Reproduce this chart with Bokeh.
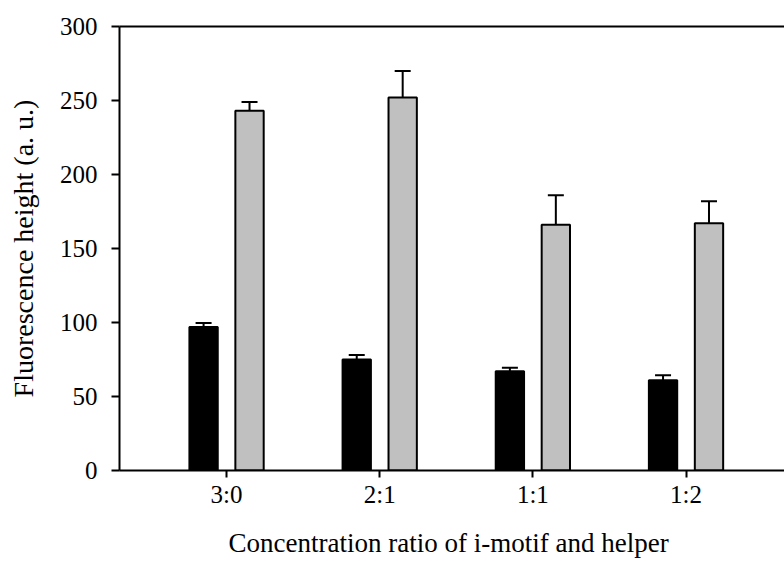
import numpy as np
from bokeh.plotting import figure
from bokeh.models import (ColumnDataSource, Whisker, TeeHead, FixedTicker,
                          LinearAxis, Range1d)
from bokeh.embed import file_html
from bokeh.resources import INLINE

categories = ["3:0", "2:1", "1:1", "1:2"]
black_vals = [97, 75, 67, 61]
black_err = [2.7, 3.0, 2.5, 3.4]
gray_vals = [243, 252, 166, 167]
gray_err = [6, 18, 20, 15]
y_ticks = [0, 50, 100, 150, 200, 250, 300]

idx = np.arange(len(categories)) + 1.0
offset = 0.15
bw = 0.185

FONT = "Liberation Serif"

p = figure(width=784, height=561, output_backend="svg", toolbar_location=None,
           x_range=Range1d(0.301, 4.643), y_range=Range1d(0, 300),
           min_border_left=119, min_border_right=0, min_border_top=26,
           min_border_bottom=91)
p.outline_line_color = None
p.grid.visible = False
p.background_fill_color = "white"
p.border_fill_color = "white"

src_b = ColumnDataSource(dict(x=idx - offset, top=black_vals,
                              up=np.array(black_vals) + np.array(black_err),
                              base=black_vals))
src_g = ColumnDataSource(dict(x=idx + offset, top=gray_vals,
                              up=np.array(gray_vals) + np.array(gray_err),
                              base=gray_vals))

for src, col in ((src_b, "black"), (src_g, "#c0c0c0")):
    w = Whisker(source=src, base="x", lower="base", upper="up",
                line_width=2, line_color="black",
                upper_head=TeeHead(size=16, line_width=2, line_color="black"),
                lower_head=None)
    p.add_layout(w)
    p.vbar(x="x", top="top", bottom=0, width=bw, source=src,
           fill_color=col, line_color="black", line_width=2)

# axes styling
p.xaxis.ticker = FixedTicker(ticks=list(idx))
p.xaxis.major_label_overrides = {float(i): c for i, c in zip(idx, categories)}
p.xaxis.minor_tick_line_color = None
p.yaxis.ticker = FixedTicker(ticks=y_ticks)
p.yaxis.minor_tick_line_color = None
for ax in (p.xaxis[0], p.yaxis[0]):
    ax.axis_line_width = 2
    ax.major_tick_line_width = 2
    ax.major_tick_in = 0
    ax.major_label_text_font = FONT
    ax.major_label_text_font_size = "25px"
    ax.major_label_text_color = "black"
    ax.axis_label_text_font = FONT
    ax.axis_label_text_font_style = "normal"
    ax.axis_label_text_color = "black"

p.xaxis.major_tick_out = 7
p.yaxis.major_tick_out = 8
p.xaxis.axis_label = "Concentration ratio of  i-motif and helper"
p.yaxis.axis_label = "Fluorescence height (a. u.)"
p.xaxis.axis_label_text_font_size = "27px"
p.yaxis.axis_label_text_font_size = "28px"
p.xaxis.major_label_standoff = 3
p.xaxis.axis_label_standoff = 17
p.yaxis.major_label_standoff = 14
p.yaxis.axis_label_standoff = 18

top_axis = LinearAxis(ticker=FixedTicker(ticks=[]), axis_line_width=2,
                      major_label_text_font_size="0px",
                      major_tick_line_color=None, minor_tick_line_color=None)
p.add_layout(top_axis, "above")

open("out.html", "w").write(file_html(p, INLINE))
